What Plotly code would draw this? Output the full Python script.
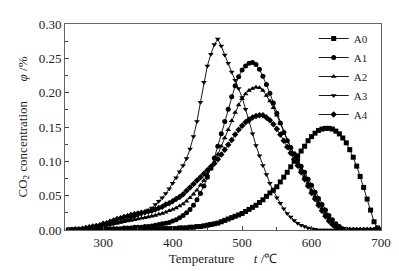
import plotly.graph_objects as go

temperature = list(range(250, 701, 5))

A0 = [0.000,0.000,0.000,0.000,0.000,0.000,0.000,0.000,0.000,0.000,
      0.000,0.000,0.000,0.000,0.000,0.000,0.000,0.001,0.001,0.001,
      0.001,0.001,0.001,0.001,0.001,0.001,0.001,0.002,0.002,0.002,
      0.002,0.002,0.003,0.003,0.003,0.004,0.004,0.005,0.005,0.006,
      0.007,0.008,0.009,0.010,0.012,0.014,0.016,0.018,0.020,0.022,
      0.024,0.027,0.030,0.033,0.036,0.040,0.044,0.049,0.054,0.058,
      0.063,0.070,0.077,0.084,0.092,0.100,0.108,0.115,0.122,0.130,
      0.136,0.141,0.145,0.147,0.148,0.148,0.147,0.144,0.140,0.134,
      0.127,0.117,0.106,0.093,0.078,0.062,0.045,0.029,0.012,0.003,
      0.000]

A1 = [0.000,0.000,0.000,0.000,0.000,0.000,0.000,0.000,0.001,0.001,
      0.001,0.001,0.002,0.002,0.002,0.002,0.003,0.003,0.003,0.004,
      0.004,0.004,0.005,0.005,0.006,0.007,0.008,0.009,0.010,0.011,
      0.013,0.015,0.018,0.021,0.025,0.030,0.036,0.044,0.053,0.064,
      0.077,0.090,0.105,0.122,0.140,0.158,0.176,0.194,0.210,0.223,
      0.233,0.239,0.243,0.244,0.241,0.234,0.224,0.212,0.199,0.185,
      0.170,0.156,0.142,0.130,0.120,0.111,0.102,0.093,0.084,0.074,
      0.065,0.055,0.046,0.037,0.029,0.021,0.015,0.009,0.005,0.002,
      0.001,0.000,0.000,0.000,0.000,0.000,0.000,0.000,0.000,0.000,
      0.000]

A2 = [0.000,0.000,0.000,0.001,0.001,0.001,0.002,0.003,0.004,0.005,
      0.006,0.007,0.008,0.009,0.010,0.011,0.012,0.013,0.014,0.015,
      0.016,0.017,0.018,0.019,0.020,0.021,0.023,0.024,0.026,0.028,
      0.030,0.032,0.035,0.038,0.042,0.047,0.052,0.058,0.065,0.072,
      0.080,0.089,0.098,0.110,0.122,0.134,0.146,0.159,0.171,0.182,
      0.191,0.198,0.203,0.206,0.208,0.207,0.203,0.196,0.188,0.178,
      0.167,0.155,0.143,0.131,0.120,0.109,0.099,0.088,0.078,0.068,
      0.058,0.049,0.040,0.032,0.024,0.017,0.011,0.006,0.003,0.001,
      0.000,0.000,0.000,0.000,0.000,0.000,0.000,0.000,0.000,0.000,
      0.000]

A3 = [0.000,0.000,0.001,0.001,0.002,0.002,0.003,0.003,0.004,0.005,
      0.006,0.007,0.008,0.009,0.011,0.012,0.014,0.015,0.017,0.019,
      0.021,0.023,0.026,0.029,0.032,0.037,0.042,0.047,0.053,0.060,
      0.068,0.076,0.085,0.094,0.104,0.118,0.136,0.158,0.186,0.215,
      0.239,0.256,0.270,0.278,0.268,0.255,0.243,0.230,0.218,0.206,
      0.193,0.176,0.158,0.140,0.123,0.108,0.094,0.081,0.068,0.057,
      0.047,0.039,0.031,0.024,0.019,0.014,0.010,0.007,0.005,0.003,
      0.002,0.001,0.000,0.000,0.000,0.000,0.000,0.000,0.000,0.000,
      0.000,0.000,0.000,0.000,0.000,0.000,0.000,0.000,0.000,0.000,
      0.000]

A4 = [0.000,0.000,0.001,0.001,0.002,0.003,0.004,0.005,0.006,0.007,
      0.009,0.010,0.012,0.014,0.016,0.017,0.019,0.020,0.022,0.023,
      0.024,0.025,0.026,0.027,0.028,0.030,0.032,0.034,0.037,0.039,
      0.042,0.045,0.048,0.052,0.057,0.062,0.067,0.072,0.077,0.082,
      0.087,0.092,0.097,0.103,0.110,0.117,0.124,0.131,0.139,0.146,
      0.152,0.157,0.161,0.164,0.166,0.167,0.167,0.164,0.160,0.154,
      0.147,0.139,0.130,0.121,0.112,0.103,0.094,0.084,0.074,0.064,
      0.054,0.045,0.036,0.028,0.020,0.013,0.008,0.004,0.001,0.000,
      0.000,0.000,0.000,0.000,0.000,0.000,0.000,0.000,0.000,0.000,
      0.000]

series_names = ["A0", "A1", "A2", "A3", "A4"]
series_values = [A0, A1, A2, A3, A4]
symbols = ["square", "circle", "triangle-up", "triangle-down", "diamond"]
x_tick_values = [300, 400, 500, 600, 700]
y_tick_values = [0.00, 0.05, 0.10, 0.15, 0.20, 0.25, 0.30]

FONT = "Liberation Serif"

fig = go.Figure()
for name, vals, sym in zip(series_names, series_values, symbols):
    fig.add_trace(go.Scatter(
        x=temperature, y=vals, name=name, mode="lines+markers",
        line=dict(color="black", width=0.9),
        marker=dict(symbol=sym, size=5, color="black", line=dict(width=0)),
    ))

fig.update_layout(
    width=399, height=271,
    margin=dict(l=65, r=18, t=24, b=41, autoexpand=False),
    paper_bgcolor="white", plot_bgcolor="white",
    font=dict(family=FONT, size=13, color="#222"),
    showlegend=True,
    legend=dict(x=0.787, y=1.0, xanchor="left", yanchor="top",
                bgcolor="rgba(0,0,0,0)", borderwidth=0,
                font=dict(family=FONT, size=11, color="#222"),
                tracegroupgap=0, itemwidth=30),
)
fig.update_xaxes(
    range=[245, 700], tickvals=x_tick_values, ticks="inside", ticklen=4,
    tickcolor="#444", linecolor="#666", linewidth=1, mirror=True,
    showgrid=False, zeroline=False,
    minor=dict(ticks="inside", ticklen=3, dtick=50, tick0=250, tickcolor="#444", showgrid=False),
    title=dict(text="Temperature      <i>t</i> /℃", font=dict(family=FONT, size=13), standoff=5),
)
fig.update_yaxes(
    range=[0, 0.30], tickvals=y_tick_values, tickformat=".2f", ticks="inside", ticklen=4,
    tickcolor="#444", linecolor="#666", linewidth=1, mirror=True,
    showgrid=False, zeroline=False,
    minor=dict(ticks="inside", ticklen=3, dtick=0.025, tick0=0, tickcolor="#444", showgrid=False),
    title=dict(text="CO<sub>2</sub> concentration      <i>φ</i> /%", font=dict(family=FONT, size=13), standoff=8),
)

fig.write_html("out.html", config={"displayModeBar": False},
               post_script="document.body.style.margin='0';document.body.style.overflow='hidden';")
